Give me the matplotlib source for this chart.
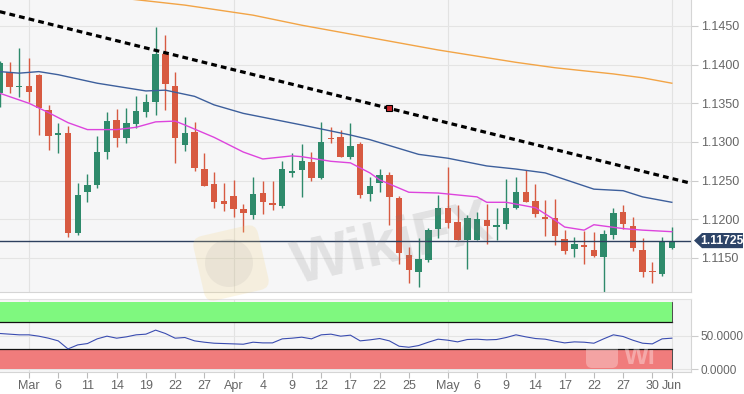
import matplotlib
matplotlib.use("Agg")
import matplotlib.pyplot as plt
import matplotlib.transforms as mtransforms
from matplotlib.patches import Polygon, FancyBboxPatch, Circle
import numpy as np
import pandas as pd

plt.rcParams["font.family"] = ["Liberation Sans", "DejaVu Sans"]

# daily EUR/USD candles, 26 Feb .. 3 Jun 2019 (trading days)
first_day = "2019-02-26"
last_day = "2019-06-03"

opens = [1.1363, 1.1391, 1.1371, 1.1372, 1.1387, 1.1341, 1.1309, 1.1312, 1.1182, 1.1235,
         1.1244, 1.1287, 1.1328, 1.1305, 1.1323, 1.1339, 1.1352, 1.1414, 1.1372, 1.1296,
         1.1313, 1.1265, 1.1246, 1.1224, 1.1230, 1.1213, 1.1206, 1.1234, 1.1221, 1.1217,
         1.1260, 1.1264, 1.1274, 1.1253, 1.1305, 1.1306, 1.1281, 1.1297, 1.1233, 1.1247,
         1.1257, 1.1228, 1.1154, 1.1132, 1.1147, 1.1188, 1.1215, 1.1197, 1.1173, 1.1173,
         1.1199, 1.1190, 1.1194, 1.1215, 1.1235, 1.1224, 1.1203, 1.1202, 1.1175, 1.1162,
         1.1167, 1.1160, 1.1151, 1.1180, 1.1209, 1.1191, 1.1160, 1.1133, 1.1129, 1.1163]
highs = [1.1405, 1.1403, 1.1422, 1.1409, 1.1388, 1.1348, 1.1325, 1.1321, 1.1247, 1.1259,
         1.1308, 1.1339, 1.1343, 1.1344, 1.1360, 1.1362, 1.1449, 1.1438, 1.1390, 1.1332,
         1.1326, 1.1286, 1.1261, 1.1247, 1.1251, 1.1220, 1.1255, 1.1250, 1.1250, 1.1275,
         1.1286, 1.1297, 1.1287, 1.1326, 1.1319, 1.1316, 1.1325, 1.1300, 1.1255, 1.1265,
         1.1261, 1.1230, 1.1164, 1.1176, 1.1189, 1.1232, 1.1268, 1.1219, 1.1206, 1.1209,
         1.1220, 1.1215, 1.1252, 1.1255, 1.1264, 1.1246, 1.1225, 1.1226, 1.1186, 1.1177,
         1.1185, 1.1183, 1.1186, 1.1215, 1.1218, 1.1203, 1.1176, 1.1145, 1.1177, 1.1190]
lows = [1.1345, 1.1363, 1.1358, 1.1352, 1.1309, 1.1290, 1.1286, 1.1177, 1.1180, 1.1222,
        1.1240, 1.1278, 1.1294, 1.1299, 1.1318, 1.1332, 1.1335, 1.1341, 1.1273, 1.1288,
        1.1262, 1.1243, 1.1215, 1.1211, 1.1203, 1.1184, 1.1200, 1.1207, 1.1212, 1.1215,
        1.1255, 1.1229, 1.1250, 1.1252, 1.1299, 1.1281, 1.1278, 1.1228, 1.1224, 1.1235,
        1.1193, 1.1142, 1.1117, 1.1113, 1.1145, 1.1176, 1.1189, 1.1173, 1.1136, 1.1173,
        1.1168, 1.1173, 1.1188, 1.1213, 1.1222, 1.1203, 1.1178, 1.1167, 1.1155, 1.1151,
        1.1142, 1.1151, 1.1106, 1.1175, 1.1188, 1.1159, 1.1125, 1.1118, 1.1127, 1.1162]
closes = [1.1402, 1.1371, 1.1373, 1.1365, 1.1344, 1.1308, 1.1311, 1.1182, 1.1232, 1.1244,
          1.1287, 1.1327, 1.1305, 1.1325, 1.1340, 1.1352, 1.1414, 1.1375, 1.1305, 1.1312,
          1.1266, 1.1243, 1.1222, 1.1220, 1.1213, 1.1208, 1.1233, 1.1222, 1.1219, 1.1265,
          1.1263, 1.1275, 1.1253, 1.1300, 1.1304, 1.1281, 1.1295, 1.1232, 1.1243, 1.1257,
          1.1229, 1.1156, 1.1134, 1.1149, 1.1186, 1.1215, 1.1195, 1.1173, 1.1202, 1.1200,
          1.1191, 1.1192, 1.1215, 1.1235, 1.1222, 1.1207, 1.1201, 1.1179, 1.1159, 1.1168,
          1.1164, 1.1153, 1.1181, 1.1208, 1.1194, 1.1163, 1.1132, 1.1132, 1.1171, 1.11725]

rsi = [53, 52, 51, 51, 49, 46, 42, 30, 36, 38,
       45, 49, 46, 48, 51, 52, 58, 53, 46, 47,
       42, 40, 38.5, 38, 37.5, 37, 40, 39, 39, 45,
       46, 47.5, 45, 51, 52, 49, 50.5, 42, 43.5, 45.5,
       42, 34, 32.5, 35, 40, 44.5, 43, 40.5, 44, 44.5,
       43.5, 44, 47, 51, 48, 45.5, 44.5, 41.5, 39, 40.5,
       40, 38.5, 45, 51, 48.5, 43, 38.5, 37.5, 45, 46]

# moving averages read at a few candles (candle number from 26 Feb)
ma200_at = [0, 14, 19, 26, 31, 38, 45, 50, 53, 57, 60, 63, 66, 69]
ma200 = [1.1503, 1.1484, 1.1477, 1.1464, 1.1451, 1.1435, 1.1419, 1.1409, 1.1403,
         1.1396, 1.1392, 1.1388, 1.1383, 1.1376]
ma50_at = [0, 2, 4, 6, 10, 15, 17, 20, 22, 25, 31, 36, 38, 43, 46, 50, 53, 56, 61, 64, 66, 69]
ma50 = [1.1391, 1.1389, 1.1391, 1.1387, 1.1376, 1.1366, 1.1367, 1.1359, 1.1348, 1.1337,
        1.1322, 1.1309, 1.1303, 1.1284, 1.1279, 1.1269, 1.1265, 1.1260, 1.1239, 1.1237,
        1.1229, 1.1222]
ma20_at = [0, 3, 5, 7, 9, 12, 14, 16, 18, 19, 22, 25, 27, 30, 31, 34, 36, 38, 39, 42,
           45, 49, 50, 52, 55, 57, 58, 60, 61, 64, 66, 69]
ma20 = [1.1363, 1.1350, 1.1338, 1.1325, 1.1316, 1.1316, 1.1319, 1.1326, 1.1327, 1.1322,
        1.1306, 1.1287, 1.1278, 1.1282, 1.1281, 1.1275, 1.1273, 1.1260, 1.1251, 1.1235,
        1.1234, 1.1229, 1.1222, 1.1222, 1.1215, 1.1199, 1.1190, 1.1186, 1.1193, 1.1188,
        1.1186, 1.1184]

trend_at = [0, 71]
trend = [1.14685, 1.12465]
anchor_at = 40
last_price = 1.11725

tick_dates = ["2019-03-01", "2019-03-06", "2019-03-11", "2019-03-14", "2019-03-19",
              "2019-03-22", "2019-03-27", "2019-04-01", "2019-04-04", "2019-04-09",
              "2019-04-12", "2019-04-17", "2019-04-22", "2019-04-25", "2019-05-01",
              "2019-05-06", "2019-05-09", "2019-05-14", "2019-05-17", "2019-05-22",
              "2019-05-27", "2019-05-30", "2019-06-03"]
tick_labels = ["Mar", "6", "11", "14", "19", "22", "27", "Apr", "4", "9", "12", "17",
               "22", "25", "May", "6", "9", "14", "17", "22", "27", "30", "Jun"]
grid_dates = ["2019-03-01", "2019-04-01", "2019-05-01", "2019-06-03"]

days = pd.bdate_range(first_day, last_day)
x = np.arange(len(days))
o, h, l, c = map(np.array, (opens, highs, lows, closes))
up = c >= o
col = np.where(up, "#2e8a6b", "#d75a41")

W, H = 744, 394
fig = plt.figure(figsize=(W / 100, H / 100), dpi=100)
ax = fig.add_axes([0, 1 - 292 / H, 691 / W, 292 / H])
ax2 = fig.add_axes([0, 1 - 372 / H, 691 / W, 73 / H], sharex=ax)

bg = "#f6f6f7"
for a in (ax, ax2):
    a.set_facecolor(bg)
    for s in ("left", "top"):
        a.spines[s].set_visible(False)
    for s in ("right", "bottom"):
        a.spines[s].set_color("#d5d5d5")
        a.spines[s].set_linewidth(0.8)
    a.yaxis.tick_right()
    a.tick_params(axis="y", colors="#cccccc", labelcolor="#666666", labelsize=9,
                  length=5, width=0.8, pad=2)

ax2.spines["top"].set_visible(True)
ax2.spines["top"].set_color("#e2e2e2")

# price panel
ax.set_ylim(1.1106, 1.14836)
ax.set_xlim(0.02, 70.97)
ax.set_yticks(np.arange(1.1150, 1.1451, 0.005))
ax.yaxis.set_major_formatter(matplotlib.ticker.FormatStrFormatter("%.4f"))
ax.grid(axis="y", color="#e4e4e4", lw=0.8)
ax.set_axisbelow(True)
ax.tick_params(axis="x", bottom=False, labelbottom=False)

tick_pos = days.get_indexer(pd.to_datetime(tick_dates))
grid_pos = days.get_indexer(pd.to_datetime(grid_dates))
for g in grid_pos:
    ax.axvline(g, color="#e2e2e2", lw=0.8, zorder=0.5)
    ax2.axvline(g, color="#e2e2e2", lw=0.8, zorder=0.5)

# watermark behind the candles
cx, cy = 231, H - 263
rot = mtransforms.Affine2D().rotate_deg_around(cx, cy, 13)
logo = FancyBboxPatch((cx - 30, cy - 30), 60, 60, boxstyle="round,pad=3,rounding_size=10",
                      transform=rot, facecolor="#f3d27a", edgecolor="none", alpha=0.2,
                      zorder=0.8)
fig.patches.append(logo)
fig.patches.append(Circle((cx - 2, cy), 24, transform=mtransforms.IdentityTransform(),
                          facecolor="#8a8a8a", edgecolor="none", alpha=0.1, zorder=0.9))
fig.text(393 / W, 1 - 246 / H, "WikiFX", fontsize=44, fontweight="bold", color="#7a7a7a",
         alpha=0.17, ha="center", va="center", rotation=13, zorder=0.9)

ax.vlines(x, l, h, colors=col, lw=1, zorder=2)
body = np.maximum(np.abs(c - o), 0.00003)
ax.bar(x, body, bottom=np.minimum(o, c), width=0.66, color=col, linewidth=0, zorder=3)

ax.plot(ma200_at, ma200, color="#f2a446", lw=1, zorder=4)
ax.plot(ma50_at, ma50, color="#3d5f9c", lw=1, zorder=4)
ax.plot(ma20_at, ma20, color="#dd44dd", lw=1, zorder=4)

ax.axhline(last_price, color="#2d405f", lw=1, zorder=3.5)
ax.plot(trend_at, trend, color="black", lw=2.3, linestyle=(0, (1.8, 1.3)), zorder=5,
        solid_capstyle="butt", dash_capstyle="butt")
slope = (trend[1] - trend[0]) / (trend_at[1] - trend_at[0])
ax.plot([anchor_at], [trend[0] + slope * (anchor_at - trend_at[0])], marker="s", ms=4,
        mfc="#c8242a", mec="black", mew=0.8, zorder=6)

# last price tag
tr = mtransforms.blended_transform_factory(ax.transAxes, ax.transData)
hh = 0.00098
tag = Polygon([(694 / 691, last_price), (702 / 691, last_price + hh), (743 / 691, last_price + hh),
               (743 / 691, last_price - hh), (702 / 691, last_price - hh)],
              closed=True, transform=tr, facecolor="#2d4468", edgecolor="none",
              clip_on=False, zorder=10)
ax.add_patch(tag)
ax.text(722 / 691, last_price, "1.11725", transform=tr, color="white", fontsize=8.7,
        fontweight="bold", ha="center", va="center", clip_on=False, zorder=11)

# RSI panel
ax2.set_ylim(-4.4, 104.4)
ax2.set_yticks([0, 50])
ax2.yaxis.set_major_formatter(matplotlib.ticker.FormatStrFormatter("%.4f"))
ax2.tick_params(axis="y", labelsize=8.5, pad=1.5)
ax2.grid(axis="y", color="#e4e4e4", lw=0.8)
ax2.set_axisbelow(True)
band_x = [-2, grid_pos[-1]]
ax2.fill_between(band_x, 70, 100, color="#7ff87f", lw=0, zorder=1)
ax2.fill_between(band_x, 0, 30, color="#f07c7c", lw=0, zorder=1)
ax2.plot(band_x, [70, 70], color="#111111", lw=0.9, zorder=2)
ax2.plot(band_x, [30, 30], color="#111111", lw=0.9, zorder=2)
ax2.plot([band_x[1]] * 2, [70, 100], color="#333333", lw=0.6, zorder=2)
ax2.plot([band_x[1]] * 2, [0, 30], color="#333333", lw=0.6, zorder=2)
ax2.plot(x, rsi, color="#3a4cb0", lw=0.8, zorder=3)

# small watermark over the oversold band (only "Wi" shows in the reference)
mark = FancyBboxPatch((587, H - 367), 30, 28, boxstyle="round,pad=1,rounding_size=6",
                      transform=mtransforms.IdentityTransform(), facecolor="white",
                      edgecolor="none", alpha=0.3, zorder=2.5)
ax2.add_patch(mark)
ax2.text(624 / 691, 0.2, "Wi", transform=ax2.transAxes, fontsize=19, fontweight="bold",
         color="white", alpha=0.35, ha="left", va="center", zorder=2.5)

ax2.set_xticks(tick_pos)
ax2.set_xticklabels(tick_labels)
ax2.tick_params(axis="x", colors="#bbbbbb", labelcolor="#666666", labelsize=9,
                length=4, width=0.8, pad=2)

fig.savefig("out.png", dpi=100, facecolor="white")
